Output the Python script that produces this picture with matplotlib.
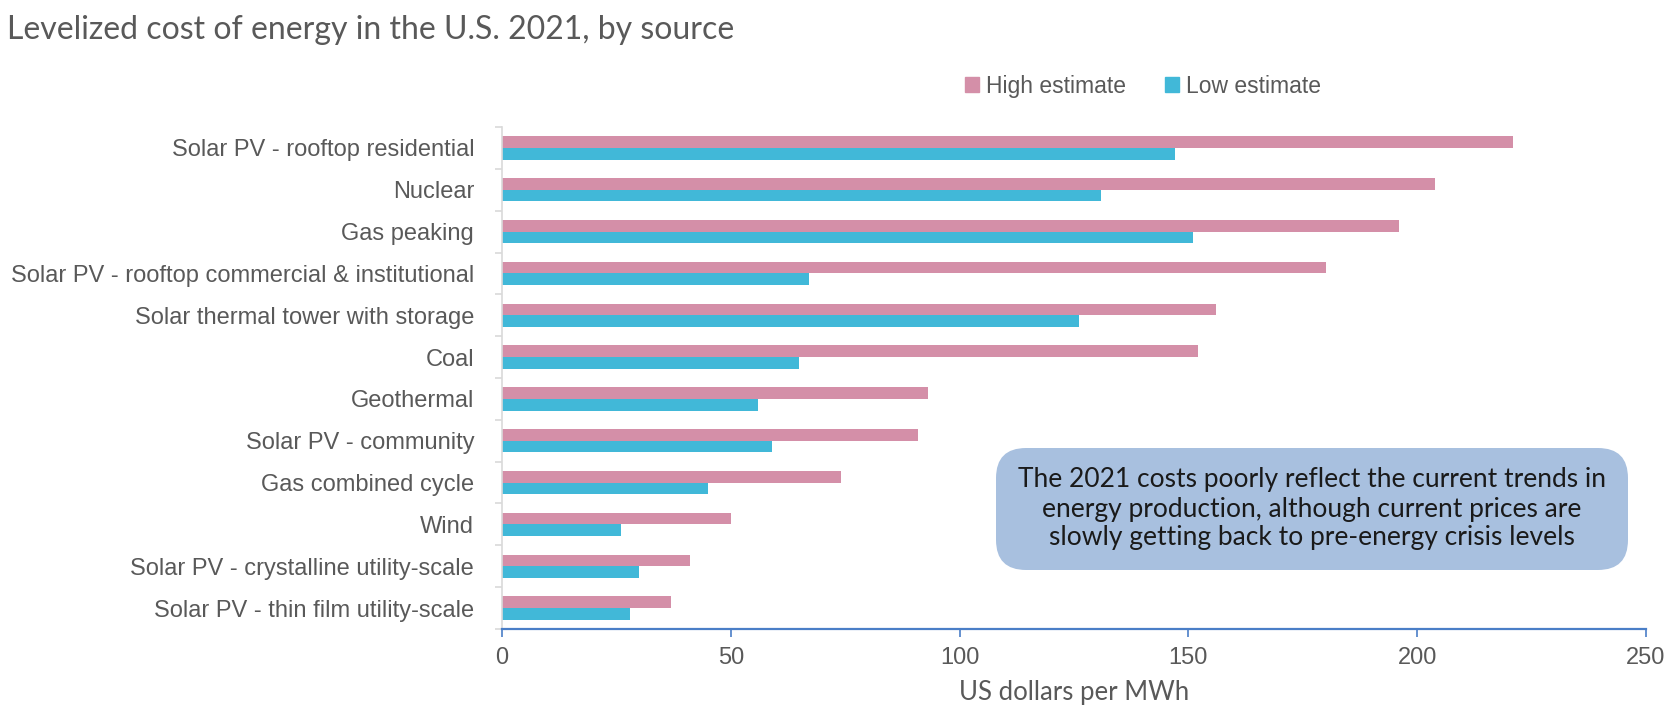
import matplotlib
matplotlib.use("Agg")
import matplotlib.pyplot as plt
import numpy as np
from matplotlib.patches import Patch, FancyBboxPatch

sources = [
    "Solar PV - rooftop residential",
    "Nuclear",
    "Gas peaking",
    "Solar PV - rooftop commercial & institutional",
    "Solar thermal tower with storage",
    "Coal",
    "Geothermal",
    "Solar PV - community",
    "Gas combined cycle",
    "Wind",
    "Solar PV - crystalline utility-scale",
    "Solar PV - thin film utility-scale",
]
high_estimate = [221, 204, 196, 180, 156, 152, 93, 91, 74, 50, 41, 37]
low_estimate = [147, 131, 151, 67, 126, 65, 56, 59, 45, 26, 30, 28]
x_ticks = [0, 50, 100, 150, 200, 250]

PINK = "#D48FA8"
BLUE = "#41B8D8"
GRAY = "#595959"
AXIS_BLUE = "#4A7EC7"
SANS = ["Liberation Sans", "DejaVu Sans"]

fig = plt.figure(figsize=(16.71, 7.06), dpi=100)
ax = fig.add_axes([0.3004, 0.1091, 0.985 - 0.3004, 0.8201 - 0.1091])

pos = np.arange(len(sources))
h = 0.28
ax.barh(pos - h / 2, high_estimate, height=h, color=PINK, label="High estimate")
ax.barh(pos + h / 2, low_estimate, height=h, color=BLUE, label="Low estimate")

ax.set_ylim(len(sources) - 0.5, -0.5)
ax.set_xlim(0, 250)

ax.set_yticks(pos)
ax.set_yticklabels(sources, family=SANS, fontsize=17, color=GRAY)
ax.set_yticks(np.arange(-0.5, len(sources)), minor=True)
ax.tick_params(axis="y", which="major", length=0, pad=20)
ax.tick_params(axis="y", which="minor", length=5, color="#D9D9D9", width=1.2)

ax.set_xticks(x_ticks)
ax.set_xticklabels([str(t) for t in x_ticks], family=SANS, fontsize=17, color=GRAY)
ax.tick_params(axis="x", which="major", length=6, color=AXIS_BLUE, width=1.2, pad=7)

for side in ("top", "right"):
    ax.spines[side].set_visible(False)
ax.spines["left"].set_color("#D9D9D9")
ax.spines["left"].set_linewidth(1.2)
ax.spines["bottom"].set_color(AXIS_BLUE)
ax.spines["bottom"].set_linewidth(1.6)

ax.set_xlabel("US dollars per MWh", family="Lato", fontsize=18.5, color=GRAY, labelpad=8)

fig.text(0.004, 0.957, "Levelized cost of energy in the U.S. 2021, by source",
         family="Lato", fontsize=23, color=GRAY, ha="left", va="center")

handles = [Patch(color=PINK, label="High estimate"), Patch(color=BLUE, label="Low estimate")]
fig.legend(handles=handles, loc="center", bbox_to_anchor=(0.684, 0.878), ncol=2,
           frameon=False, handlelength=0.6, handleheight=0.6, handletextpad=0.3,
           columnspacing=1.7, prop={"family": SANS, "size": 16.5},
           labelcolor=GRAY)

# note box
bx0, by0, bx1, by1 = 996 / 1671, 1 - 570 / 706, 1628 / 1671, 1 - 448 / 706
box = FancyBboxPatch((bx0, by0), bx1 - bx0, by1 - by0,
                     boxstyle="round,pad=0,rounding_size=0.018",
                     transform=fig.transFigure, facecolor="#A8C0DF", edgecolor="none",
                     mutation_aspect=1671 / 706)
fig.patches.append(box)
fig.text((bx0 + bx1) / 2, (by0 + by1) / 2,
         "The 2021 costs poorly reflect the current trends in\n"
         "energy production, although current prices are\n"
         "slowly getting back to pre-energy crisis levels",
         family="Lato", fontsize=19, color="#1A1A1A", ha="center", va="center",
         linespacing=1.2)

fig.savefig("out.png", dpi=100)
